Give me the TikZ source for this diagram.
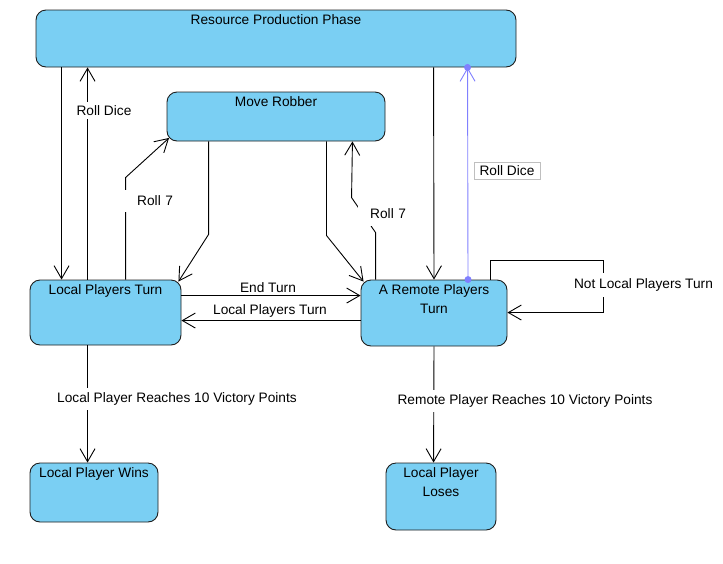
\documentclass[tikz,border=0pt]{standalone}
\usepackage{fontspec}
\setmainfont{Liberation Sans}
\usetikzlibrary{arrows.meta,calc}
\definecolor{boxfill}{RGB}{122,207,243}
\definecolor{boxline}{RGB}{30,30,30}
\definecolor{bluelink}{RGB}{128,128,255}
\begin{document}
\begin{tikzpicture}[x=1pt,y=-1pt,
  font=\fontsize{13.7}{19}\selectfont,
  statebox/.style={draw=boxline, fill=boxfill, rounded corners=10pt, line width=0.9pt, inner sep=0pt},
  title/.style={anchor=north, inner sep=0pt, align=center, yshift=-5pt},
  conn/.style={draw=black, line width=0.9pt, -{Straight Barb[length=13pt,width=15pt,line width=0.9pt]}},
  lbl/.style={fill=white, inner xsep=1pt, inner ysep=4pt},
]
\useasboundingbox (0,0) rectangle (723,563);

% states
\node[statebox, minimum width=480, minimum height=57] (rpp) at (276,38.5) {};
\node[title] (rppt) at (rpp.north) {Resource Production Phase};
\node[statebox, minimum width=218, minimum height=49] (mr) at (276,116.5) {};
\node[title] (mrt) at (mr.north) {Move Robber};
\node[statebox, minimum width=151, minimum height=65] (lpt) at (105.5,312.5) {};
\node[title] (lptt) at (lpt.north) {Local Players Turn};
\node[statebox, minimum width=146, minimum height=66] (arpt) at (434,313) {};
\node[title] (arptt) at (arpt.north) {A Remote Players\\Turn};
\node[statebox, minimum width=128, minimum height=59] (lpw) at (94,492.5) {};
\node[title] (lpwt) at (lpw.north) {Local Player Wins};
\node[statebox, minimum width=110, minimum height=67] (lpl) at (441,496.5) {};
\node[title] (lplt) at (lpl.north) {Local Player\\Loses};

% Resource Production <-> Local Players Turn
\draw[conn] ([xshift=26pt]rpp.south west) -- ([xshift=32pt]lpt.north west);
\draw[conn] ([xshift=58pt]lpt.north west) -- ([xshift=52pt]rpp.south west);
\node[lbl, inner ysep=3pt] (l1) at (104,110.5) {Roll Dice};

% Resource Production <-> Remote
\draw[conn] ([xshift=398pt]rpp.south west) -- (arpt.north);
\coordinate (bs) at ([xshift=34pt]arpt.north);
\coordinate (be) at ([xshift=432pt]rpp.south west);
\draw[conn, draw=bluelink] (bs) -- (be);
\fill[bluelink] (bs) circle (3.5);
\fill[bluelink] (be) circle (3.5);
\node[draw=black!25, fill=white, inner sep=0pt, minimum width=66, minimum height=17, line width=0.9pt] (l2) at (507,170.5) {Roll Dice};

% Move Robber connectors
\draw[conn] ([xshift=96pt]lpt.north west) -- ++(0,-102) -- ([shift={(2.5pt,3.5pt)}]mr.south west);
\node[fill=white, inner sep=0pt, text width=48pt, align=right, minimum height=22pt] (l3) at (149,200.5) {Roll 7};
\draw[conn] ([xshift=15pt]arpt.north west) -- ++(0,-47) -- ++(-24,-35) -- ([xshift=-33pt]mr.south east);
\node[fill=white, inner sep=0pt, text width=48pt, align=right, minimum height=24pt] (l4) at (382,214) {Roll 7};
\draw[conn] ([xshift=42pt]mr.south west) -- ++(0,93) -- ([shift={(-3pt,-2pt)}]lpt.north east);
\draw[conn] ([xshift=-59pt]mr.south east) -- ++(0,94) -- ([shift={(3pt,-2pt)}]arpt.north west);

% turn exchange
\coordinate (et) at ([yshift=-16pt]lpt.north east);
\draw[conn] (et) -- (et -| arpt.west);
\node[inner sep=0pt] (l5) at (268,288) {End Turn};
\coordinate (lt) at ([yshift=-41pt]arpt.north west);
\draw[conn] (lt) -- (lt -| lpt.east);
\node[inner sep=0pt] (l6) at (270,311) {Local Players Turn};

% self loop
\draw[conn] ([xshift=-17pt]arpt.north east) -- ++(0,-19) -- ++(113,0) -- ++(0,52) -- ([yshift=-33pt]arpt.north east);
\node[lbl, inner ysep=6pt] (l7) at (643.5,285) {Not Local Players Turn};

% end states
\draw[conn] ([xshift=58pt]lpt.south west) -- ([xshift=58pt]lpw.north west);
\node[lbl, inner ysep=5pt] (l8) at (177,399) {Local Player Reaches 10 Victory Points};
\draw[conn] (arpt.south) -- ([xshift=48pt]lpl.north west);
\node[lbl, inner ysep=5pt] (l9) at (525,401) {Remote Player Reaches 10 Victory Points};
\end{tikzpicture}
\end{document}
